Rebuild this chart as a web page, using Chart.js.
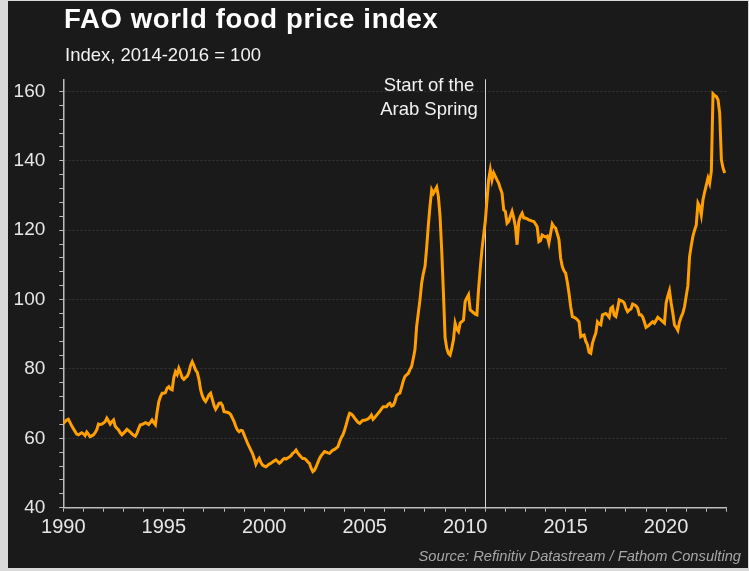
<!DOCTYPE html>
<html>
<head>
<meta charset="utf-8">
<script src="https://cdn.jsdelivr.net/npm/chart.js@4.4.0/dist/chart.umd.min.js"></script>
<style>
  html, body { margin: 0; padding: 0; }
  body { width: 749px; height: 571px; background: #d9d9d9; position: relative; overflow: hidden;
         font-family: "Liberation Sans", Arial, sans-serif; }
  #frame { position: absolute; left: 8px; top: 1px; width: 740px; height: 567px; background: #1a1a1a; }
  #chart { position: absolute; left: 0; top: 0; }
  .title { position: absolute; left: 64px; top: 3px; color: #fff; font-weight: bold; font-size: 27.5px; line-height: 32px; letter-spacing: 0.65px; white-space: nowrap; }
  .subtitle { position: absolute; left: 65px; top: 43.6px; color: #f2f2f2; font-size: 18.5px; line-height: 22px; white-space: nowrap; }
  .source { position: absolute; right: 8px; top: 548px; color: #a6a6a6; font-style: italic; font-size: 14.7px; line-height: 17px; white-space: nowrap; }
  #note { position: absolute; left: 330px; width: 200px; top: 72px; color: #f2f2f2; font-size: 18.5px; line-height: 24.7px; text-align: center; white-space: nowrap; }
</style>
</head>
<body>
<div id="frame"></div>
<canvas id="chart" width="749" height="571"></canvas>
<div class="title">FAO world food price index</div>
<div class="subtitle">Index, 2014-2016 = 100</div>
<div id="note"></div>
<div class="source">Source: Refinitiv Datastream / Fathom Consulting</div>
<script>
// monthly index values, Jan 1990 onwards
const startYear = 1990;
const values1990s = [
  64.3, 64.8, 65.3, 65.5, 64.6, 63.6, 62.8, 62.0, 61.2, 61.0, 61.3, 61.6,
  61.3, 60.8, 61.8, 61.2, 60.5, 60.7, 61.0, 61.6, 62.5, 64.1, 64.0, 64.1,
  64.4, 64.8, 65.8, 65.0, 64.1, 64.8, 65.3, 63.5, 62.9, 62.4, 61.6, 61.0,
  61.5, 62.0, 62.6, 62.2, 61.8, 61.3, 60.9, 60.6, 61.5, 62.8, 63.9, 64.0,
  64.2, 64.5, 64.3, 64.0, 64.6, 65.3, 64.5, 63.9, 67.5, 70.5, 72.0, 73.0,
  73.0, 73.2, 74.5, 74.9, 74.2, 74.0, 77.5, 79.2, 78.4, 80.2, 79.0, 77.5,
  77.0, 77.5, 77.9, 79.0, 81.0, 82.1, 81.0, 79.7, 79.0, 77.0, 74.0, 72.3,
  71.2, 70.6, 71.5, 72.5, 73.0, 71.2, 69.5, 68.4, 69.2, 70.1, 70.2, 69.5,
  67.7, 67.6, 67.5, 67.3, 66.8, 65.8, 64.8, 63.4, 62.4, 61.9, 62.3, 62.2,
  61.0, 59.8, 58.6, 57.6, 56.6, 55.6, 54.2, 52.5, 53.5, 54.2, 53.0, 52.3
];
const values2000s = [
  52.0, 51.8, 52.2, 52.6, 52.8, 53.2, 53.5, 53.8, 53.3, 52.8, 53.2, 53.8,
  54.2, 54.0, 54.3, 54.6, 55.0, 55.7, 56.0, 56.6, 55.8, 55.2, 54.6, 54.2,
  54.2, 53.8, 53.2, 52.8, 51.4, 50.4, 50.8, 51.8, 53.0, 54.2, 55.0, 55.6,
  56.2, 56.0, 55.8, 55.7, 56.2, 56.6, 56.8, 57.2, 57.6, 59.0, 60.2, 61.0,
  62.4, 64.0, 65.8, 67.2, 67.0, 66.5, 65.8, 65.2, 64.6, 64.3, 64.8, 65.2,
  65.2, 65.4, 65.6, 66.0, 66.7, 65.5, 66.0, 66.6, 67.2, 67.8, 68.5, 69.1,
  69.1, 69.1, 69.8, 70.1, 69.3, 69.5, 70.5, 72.3, 72.8, 73.0, 74.7, 76.5,
  77.8, 78.3, 78.7, 79.8, 80.7, 83.0, 85.5, 92.2, 96.1, 99.9, 104.7, 107.5,
  109.5, 115.0, 121.5, 127.0, 131.6, 130.6, 131.5, 132.4, 129.7, 123.9, 114.0, 102.0,
  89.0, 86.0, 84.5, 84.0, 86.0, 88.4, 93.2, 91.5, 90.8, 93.2, 93.6, 94.1
];
const values2010s = [
  99.5, 100.5, 101.4, 97.0, 96.6, 96.2, 95.8, 95.6, 103.0, 109.0, 114.3, 118.5,
  122.5, 128.5, 134.5, 137.4, 134.5, 136.5, 135.5, 134.5, 133.6, 132.0, 130.7, 125.9,
  125.4, 122.0, 122.5, 124.0, 125.4, 123.5, 121.0, 115.8, 122.5, 124.0, 124.9, 123.5,
  123.5, 123.3, 123.0, 122.8, 122.6, 122.5, 121.8, 121.0, 116.7, 117.0, 118.6, 118.3,
  118.1, 118.3, 116.3, 119.0, 121.8, 121.0, 120.6, 119.0, 117.3, 112.0, 109.5, 108.3,
  107.6, 105.0, 101.8, 98.0, 95.1, 94.9, 94.6, 94.2, 93.6, 89.3, 89.6, 89.8,
  88.0, 87.0, 84.8, 84.5, 87.4, 89.0, 90.3, 93.6, 93.0, 92.7, 95.6, 95.8,
  96.0, 95.5, 94.9, 97.5, 97.9, 95.5, 95.1, 97.3, 99.9, 99.7, 99.5, 99.0,
  97.5, 96.5, 97.0, 97.3, 98.7, 98.5, 98.2, 97.5, 95.6, 95.6, 95.0, 93.6,
  92.0, 92.3, 92.7, 93.2, 93.6, 93.2, 94.0, 94.9, 94.5, 94.1, 93.6, 93.2
];
const values2020s = [
  99.0, 101.0, 102.6, 99.0, 96.1, 92.7, 92.0, 91.1, 93.6, 95.0, 96.1, 98.0,
  101.0, 104.0, 112.4, 115.5, 118.2, 120.0, 121.5, 127.8, 126.8, 124.4, 128.7, 131.0,
  133.0, 135.0, 133.5, 137.0, 159.3, 158.8, 158.5, 157.6, 153.7, 140.3, 137.9, 136.5
];
const xTickLabels = [1990, 1995, 2000, 2005, 2010, 2015, 2020];
const yTickLabels = [40, 60, 80, 100, 120, 140, 160];
const eventYear = 2011;
const eventLabel = ['Start of the', 'Arab Spring'];

const allValues = values1990s.concat(values2000s, values2010s, values2020s);
const points = allValues.map((v, i) => ({ x: startYear + i / 12, y: v }));

const axisColor = '#bdbdbd';
const fontFamily = '"Liberation Sans", Arial, sans-serif';

const eventLine = {
  id: 'eventLine',
  beforeDatasetsDraw(chart) {
    const { ctx, chartArea, scales } = chart;
    const x = Math.round(scales.x.getPixelForValue(eventYear)) + 0.5;
    ctx.save();
    ctx.strokeStyle = '#d4d4d4';
    ctx.lineWidth = 1;
    ctx.beginPath();
    ctx.moveTo(x, chartArea.top);
    ctx.lineTo(x, chartArea.bottom);
    ctx.stroke();
    ctx.restore();
    // label sits centred a little left of the line
    const note = document.getElementById('note');
    note.innerHTML = eventLabel.join('<br>');
    note.style.left = (x - 56.5 - 100) + 'px';
    note.style.top = (chartArea.top - 6.7) + 'px';
  }
};

new Chart(document.getElementById('chart'), {
  type: 'line',
  data: {
    datasets: [{
      data: points,
      borderColor: '#ffa000',
      borderWidth: 3,
      pointRadius: 0,
      tension: 0,
      fill: false
    }]
  },
  options: {
    responsive: false,
    animation: false,
    layout: { padding: { left: 0, right: 22.6, top: 79.3, bottom: 0 } },
    plugins: { legend: { display: false }, tooltip: { enabled: false } },
    scales: {
      x: {
        type: 'linear',
        min: 1990,
        max: 2023,
        afterFit: s => { s.height = 63.3; },
        border: { color: axisColor, width: 1.5 },
        grid: { drawOnChartArea: false, tickColor: axisColor, tickLength: 4, tickWidth: 1 },
        ticks: {
          stepSize: 1,
          autoSkip: false,
          maxRotation: 0,
          padding: 4,
          color: '#e6e6e6',
          font: { family: fontFamily, size: 20 },
          callback: v => xTickLabels.includes(v) ? String(v) : ''
        }
      },
      y: {
        min: 40,
        max: 163.5,
        afterFit: s => { s.width = 63.3; },
        afterBuildTicks: s => {
          const ticks = [];
          for (let v = 40; v <= 160; v += 4) ticks.push({ value: v });
          s.ticks = ticks;
        },
        border: { color: axisColor, width: 1.5, dash: [2, 2] },
        grid: {
          color: c => (c.tick && c.tick.value > 40 && yTickLabels.includes(c.tick.value)) ? '#343434' : 'transparent',
          tickColor: axisColor,
          tickLength: 4,
          tickWidth: 1,
          lineWidth: 1
        },
        ticks: {
          autoSkip: false,
          padding: 14,
          color: '#e6e6e6',
          font: { family: fontFamily, size: 19 },
          callback: v => yTickLabels.includes(v) ? String(v) : ''
        }
      }
    }
  },
  plugins: [eventLine]
});
</script>
</body>
</html>
